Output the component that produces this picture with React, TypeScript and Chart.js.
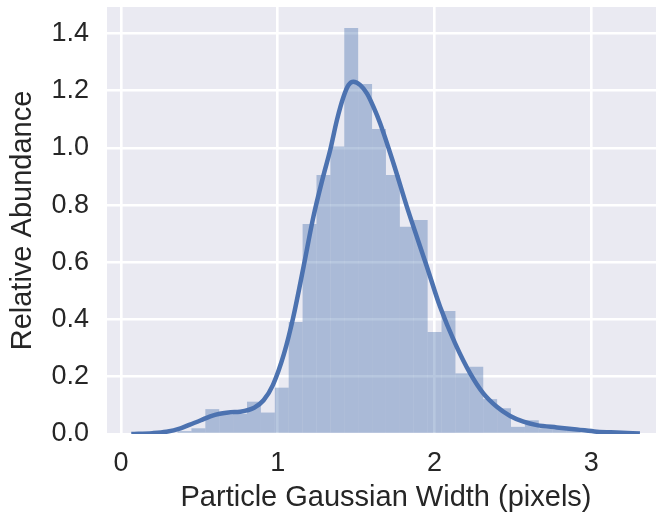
import { useEffect, useRef } from "react";
import { Chart, registerables } from "chart.js";

Chart.register(...registerables);

// Histogram bins (centers) and densities
const binCenters = [
  0.4053, 0.494, 0.5826, 0.6713, 0.7599, 0.8486, 0.9372, 1.0259, 1.1145, 1.2032,
  1.2918, 1.3805, 1.4691, 1.5578, 1.6464, 1.7351, 1.8237, 1.9124, 2.001, 2.0897,
  2.1783, 2.267, 2.3556, 2.4443, 2.5329, 2.6216, 2.7102, 2.7989, 2.8875,
];
const binDensity = [
  0.01, 0.02, 0.087, 0.068, 0.071, 0.113, 0.075, 0.162, 0.392, 0.734,
  0.906, 1.005, 1.42, 1.224, 1.066, 0.906, 0.725, 0.748, 0.357, 0.43,
  0.212, 0.235, 0.122, 0.09, 0.025, 0.048, 0.02, 0.02, 0.015,
];

// KDE curve
const kdeX = [
  0.066, 0.2, 0.29, 0.38, 0.44, 0.51, 0.57, 0.63, 0.7, 0.76, 0.85, 0.91, 0.97,
  1.04, 1.1, 1.165, 1.228, 1.29, 1.335, 1.378, 1.42, 1.452, 1.483, 1.527, 1.569,
  1.611, 1.654, 1.739, 1.824, 1.866, 1.952, 2.036, 2.132, 2.228, 2.312, 2.398,
  2.483, 2.568, 2.653, 2.781, 2.908, 3.036, 3.163, 3.311,
];
const kdeY = [
  0.0, 0.003, 0.008, 0.02, 0.033, 0.048, 0.062, 0.071, 0.076, 0.078, 0.092, 0.118, 0.172,
  0.28, 0.41, 0.585, 0.76, 0.9, 0.993, 1.098, 1.179, 1.22, 1.232, 1.22, 1.191,
  1.144, 1.086, 0.946, 0.795, 0.725, 0.585, 0.445, 0.317, 0.212, 0.142, 0.095,
  0.063, 0.043, 0.031, 0.023, 0.016, 0.008, 0.005, 0.002,
];

const xTicks = [0, 1, 2, 3];
const yTicks = [0, 0.2, 0.4, 0.6, 0.8, 1.0, 1.2, 1.4];
const xTitle = "Particle Gaussian Width (pixels)";
const yTitle = "Relative Abundance";

const FONT = "'Liberation Sans', Arial, Helvetica, sans-serif";
const TEXT = "#262626";
const BLUE = "#4C72B0";

export default function App() {
  const ref = useRef<HTMLCanvasElement>(null);

  useEffect(() => {
    if (!ref.current) return;
    const bg = {
      id: "bg",
      beforeDraw(chart: any) {
        const { ctx, chartArea: a } = chart;
        ctx.save();
        ctx.fillStyle = "#EAEAF2";
        ctx.fillRect(a.left, a.top, a.right - a.left, a.bottom - a.top);
        ctx.restore();
      },
    };
    const chart = new Chart(ref.current, {
      type: "bar",
      data: {
        datasets: [
          {
            type: "line",
            data: kdeX.map((x, i) => ({ x, y: kdeY[i] })),
            borderColor: BLUE,
            borderWidth: 4.5,
            pointRadius: 0,
            cubicInterpolationMode: "monotone",
            fill: false,
            order: 0,
          } as any,
          {
            type: "bar",
            data: binCenters.map((x, i) => ({ x, y: binDensity[i] })),
            backgroundColor: "rgba(76,114,176,0.4)",
            borderWidth: 0,
            inflateAmount: 0,
            barPercentage: 1,
            categoryPercentage: 1,
            order: 1,
          } as any,
        ],
      },
      options: {
        animation: false,
        responsive: false,
        events: [],
        layout: { padding: { left: 0, right: 15, top: 7, bottom: 0 } },
        plugins: { legend: { display: false }, tooltip: { enabled: false } },
        scales: {
          x: {
            type: "linear",
            min: -0.089,
            max: 3.471,
            offset: false,
            grid: { color: "#ffffff", lineWidth: 2.6, drawTicks: false, offset: false },
            border: { display: false },
            ticks: {
              autoSkip: false,
              maxRotation: 0,
              padding: 13,
              color: TEXT,
              font: { family: FONT, size: 27 },
              callback: (v: any) => String(v),
            },
            title: {
              display: true,
              text: xTitle,
              color: TEXT,
              font: { family: FONT, size: 29 },
              padding: { top: 0, bottom: 1 },
            },
            afterBuildTicks: (s: any) => {
              s.ticks = xTicks.map((value) => ({ value }));
            },
            afterFit: (s: any) => {
              s.height = 82;
              s.paddingLeft = 0;
              s.paddingRight = 0;
            },
          },
          y: {
            type: "linear",
            min: 0,
            max: 1.493,
            grid: { color: "#ffffff", lineWidth: 2.6, drawTicks: false },
            border: { display: false },
            ticks: {
              autoSkip: false,
              padding: 18,
              color: TEXT,
              font: { family: FONT, size: 27 },
              callback: (v: any) => Number(v).toFixed(1),
            },
            title: {
              display: true,
              text: yTitle,
              color: TEXT,
              font: { family: FONT, size: 29 },
              padding: { top: 6, bottom: 0 },
            },
            afterBuildTicks: (s: any) => {
              s.ticks = yTicks.map((value) => ({ value }));
            },
            afterFit: (s: any) => {
              s.width = 107;
              s.paddingTop = 0;
              s.paddingBottom = 0;
            },
          },
        },
      },
      plugins: [bg],
    });
    return () => chart.destroy();
  }, []);

  return (
    <div
      style={{
        position: "absolute",
        left: 0,
        top: 0,
        width: 656,
        height: 516,
        overflow: "hidden",
        background: "#ffffff",
      }}
    >
      <canvas
        ref={ref}
        width={680}
        height={516}
        style={{ display: "block", width: 680, height: 516 }}
      />
    </div>
  );
}
